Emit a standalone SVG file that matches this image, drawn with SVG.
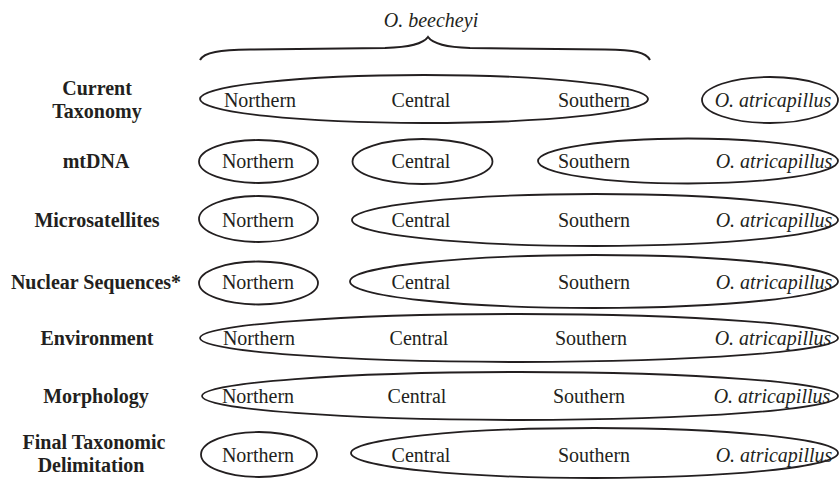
<svg xmlns="http://www.w3.org/2000/svg" width="839" height="479" viewBox="0 0 839 479">
<style>
.lbl{font-family:"Liberation Serif","Times New Roman",serif;font-size:20px;font-weight:bold;fill:#231f20;text-anchor:middle}
.t{font-family:"Liberation Serif","Times New Roman",serif;font-size:20px;fill:#231f20;text-anchor:middle}
.i{font-style:italic}
.e{fill:none;stroke:#231f20;stroke-width:1.8}
</style>
<rect width="839" height="479" fill="#fff"/>
<g id="header">
<text class="t i" x="431" y="27">O. beecheyi</text>
<path d="M200,60 C204,52 220,50 250,49.5 L385,48 C410,47 423,44 428,37 C433,44 446,47 470,48 L605,49.5 C635,50 646,52 650,60" fill="none" stroke="#231f20" stroke-width="2"/>
</g>
<g id="labels">
<text class="lbl" x="97" y="95">Current</text>
<text class="lbl" x="97" y="118">Taxonomy</text>
<text class="lbl" x="96" y="168">mtDNA</text>
<text class="lbl" x="97" y="227">Microsatellites</text>
<text class="lbl" x="96" y="289">Nuclear Sequences*</text>
<text class="lbl" x="97" y="345">Environment</text>
<text class="lbl" x="96" y="403">Morphology</text>
<text class="lbl" x="94" y="449">Final Taxonomic</text>
<text class="lbl" x="91" y="472">Delimitation</text>
</g>
<g id="connectors"></g>
<g id="row-current">
<ellipse class="e" cx="424" cy="99" rx="224" ry="24"/>
<ellipse class="e" cx="770" cy="100" rx="68" ry="23"/>
<text class="t" x="260" y="107">Northern</text>
<text class="t" x="421" y="107">Central</text>
<text class="t" x="594" y="107">Southern</text>
<text class="t i" x="773" y="107">O. atricapillus</text>
</g>
<g id="row-mtdna">
<ellipse class="e" cx="258.5" cy="161.5" rx="59.5" ry="21.5"/>
<ellipse class="e" cx="422.5" cy="161.5" rx="70" ry="22.5"/>
<ellipse class="e" cx="688" cy="161" rx="150" ry="22.5"/>
<text class="t" x="258" y="168">Northern</text>
<text class="t" x="421" y="168">Central</text>
<text class="t" x="594" y="168">Southern</text>
<text class="t i" x="774" y="168">O. atricapillus</text>
</g>
<g id="row-microsatellites">
<ellipse class="e" cx="258.5" cy="219" rx="59.5" ry="23"/>
<ellipse class="e" cx="595" cy="220" rx="243" ry="26"/>
<text class="t" x="258" y="227">Northern</text>
<text class="t" x="421" y="227">Central</text>
<text class="t" x="594" y="227">Southern</text>
<text class="t i" x="774" y="227">O. atricapillus</text>
</g>
<g id="row-nuclear">
<ellipse class="e" cx="258.5" cy="283" rx="59.5" ry="21.5"/>
<ellipse class="e" cx="594" cy="281.5" rx="244" ry="26.5"/>
<text class="t" x="258" y="289">Northern</text>
<text class="t" x="421" y="289">Central</text>
<text class="t" x="594" y="289">Southern</text>
<text class="t i" x="774" y="289">O. atricapillus</text>
</g>
<g id="row-environment">
<ellipse class="e" cx="519" cy="338" rx="319" ry="24"/>
<text class="t" x="259" y="345">Northern</text>
<text class="t" x="419" y="345">Central</text>
<text class="t" x="591" y="345">Southern</text>
<text class="t i" x="773" y="345">O. atricapillus</text>
</g>
<g id="row-morphology">
<ellipse class="e" cx="520" cy="396" rx="318" ry="24"/>
<text class="t" x="258" y="403">Northern</text>
<text class="t" x="417" y="403">Central</text>
<text class="t" x="589" y="403">Southern</text>
<text class="t i" x="772" y="403">O. atricapillus</text>
</g>
<g id="row-final">
<ellipse class="e" cx="259" cy="454.5" rx="58" ry="22.5"/>
<ellipse class="e" cx="594.5" cy="453" rx="243.5" ry="25"/>
<text class="t" x="258" y="462">Northern</text>
<text class="t" x="421" y="462">Central</text>
<text class="t" x="594" y="462">Southern</text>
<text class="t i" x="774" y="462">O. atricapillus</text>
</g>
</svg>
